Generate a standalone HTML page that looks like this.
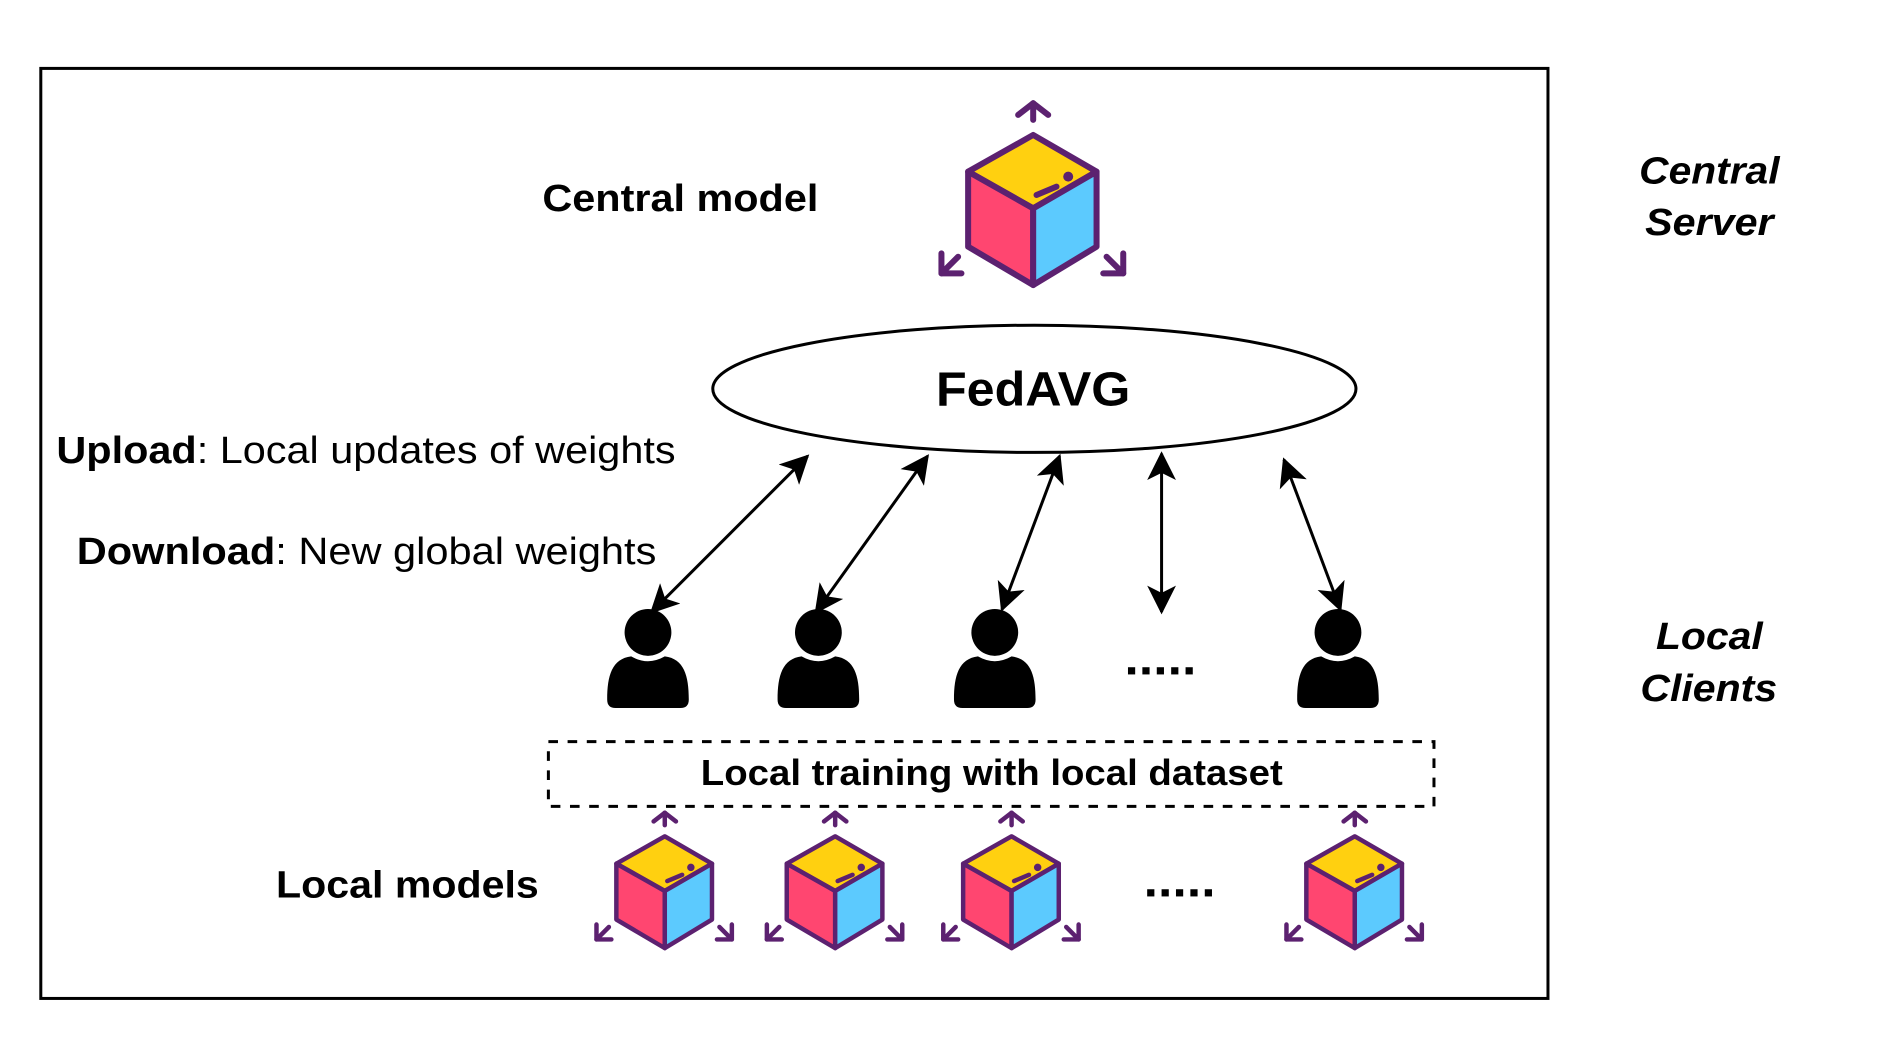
<!DOCTYPE html>
<html><head><meta charset="utf-8"><style>
html,body{margin:0;padding:0;background:#fff;}
svg{display:block;}
text{font-family:"Liberation Sans",Arial,sans-serif;fill:#000;}
</style></head><body>
<svg width="1880" height="1054" viewBox="0 0 1566.7 878.3" preserveAspectRatio="none" xmlns="http://www.w3.org/2000/svg">
<defs>
<g id="cube" stroke="#5c2170" stroke-width="18" stroke-linejoin="round" stroke-linecap="round">
  <polygon points="0,-225 190,-115 0,-5 -195,-115" fill="#ffd010"/>
  <polygon points="-195,-115 0,-5 0,225 -195,110" fill="#ff4670"/>
  <polygon points="0,-5 190,-115 190,110 0,225" fill="#5ccafe"/>
  <line x1="10" y1="-45" x2="70" y2="-70" fill="none"/>
  <circle cx="105" cy="-100" r="6" fill="#5c2170"/>
  <line x1="0" y1="-270" x2="0" y2="-320" fill="none"/>
  <polyline points="-45,-285 0,-320 45,-285" fill="none"/>
  <line x1="-275" y1="190" x2="-225" y2="140" fill="none"/>
  <polyline points="-275,130 -275,190 -215,190" fill="none"/>
  <line x1="270" y1="190" x2="220" y2="140" fill="none"/>
  <polyline points="270,130 270,190 210,190" fill="none"/>
</g>
<g id="person" fill="#000">
  <circle cx="0" cy="0" r="19.5"/>
  <path d="M-34,56 C-34,36 -30,22 -14,20 Q0,28 14,20 C30,22 34,36 34,56 Q34,63 27,63 L-27,63 Q-34,63 -34,56 Z"/>
</g>
<marker id="ah" viewBox="0 0 24 24" refX="22" refY="12" markerWidth="24" markerHeight="24" markerUnits="userSpaceOnUse" orient="auto-start-reverse">
  <path d="M24,12 L0,0 L6,12 L0,24 Z" fill="#000"/>
</marker>
</defs>

<rect x="34" y="57" width="1256" height="775" fill="none" stroke="#000" stroke-width="2.5"/>

<text x="452" y="176" font-size="32" font-weight="bold" textLength="230" lengthAdjust="spacingAndGlyphs">Central model</text>
<use href="#cube" transform="translate(861,175) scale(0.278)"/>

<ellipse cx="862" cy="324" rx="268" ry="53" fill="none" stroke="#000" stroke-width="2.5"/>
<text x="780" y="338" font-size="40" font-weight="bold" textLength="162" lengthAdjust="spacingAndGlyphs">FedAVG</text>

<text x="47" y="386" font-size="32" textLength="516" lengthAdjust="spacingAndGlyphs"><tspan font-weight="bold">Upload</tspan>: Local updates of weights</text>
<text x="64" y="470" font-size="32" textLength="483" lengthAdjust="spacingAndGlyphs"><tspan font-weight="bold">Download</tspan>: New global weights</text>

<g stroke="#000" stroke-width="2.5" marker-start="url(#ah)" marker-end="url(#ah)">
  <line x1="673" y1="380" x2="543" y2="510"/>
  <line x1="773" y1="380" x2="680" y2="510"/>
  <line x1="883" y1="380" x2="835" y2="508"/>
  <line x1="968" y1="378" x2="968" y2="510"/>
  <line x1="1070" y1="383" x2="1117" y2="508"/>
</g>

<use href="#person" x="540" y="527"/>
<use href="#person" x="682" y="527"/>
<use href="#person" x="829" y="527"/>
<use href="#person" x="1115" y="527"/>
<g fill="#000">
  <rect x="940" y="556" width="6" height="6"/><rect x="952" y="556" width="6" height="6"/><rect x="964" y="556" width="6" height="6"/><rect x="976" y="556" width="6" height="6"/><rect x="988" y="556" width="6" height="6"/>
  <rect x="956" y="741" width="6" height="6"/><rect x="968" y="741" width="6" height="6"/><rect x="980" y="741" width="6" height="6"/><rect x="992" y="741" width="6" height="6"/><rect x="1004" y="741" width="6" height="6"/>
</g>

<rect x="457" y="618" width="738" height="54" fill="none" stroke="#000" stroke-width="2.5" stroke-dasharray="8,8"/>
<text x="584" y="654" font-size="30" font-weight="bold" textLength="485" lengthAdjust="spacingAndGlyphs">Local training with local dataset</text>

<text x="230" y="748" font-size="32" font-weight="bold" textLength="219" lengthAdjust="spacingAndGlyphs">Local models</text>
<use href="#cube" transform="translate(554,743.5) scale(0.207)"/>
<use href="#cube" transform="translate(696,743.5) scale(0.207)"/>
<use href="#cube" transform="translate(843,743.5) scale(0.207)"/>
<use href="#cube" transform="translate(1129,743.5) scale(0.207)"/>

<g font-size="32" font-weight="bold" font-style="italic">
  <text x="1366" y="153" textLength="117" lengthAdjust="spacingAndGlyphs">Central</text>
  <text x="1371" y="196" textLength="107" lengthAdjust="spacingAndGlyphs">Server</text>
  <text x="1380" y="541" textLength="89" lengthAdjust="spacingAndGlyphs">Local</text>
  <text x="1367" y="584" textLength="114" lengthAdjust="spacingAndGlyphs">Clients</text>
</g>
</svg>
</body></html>
